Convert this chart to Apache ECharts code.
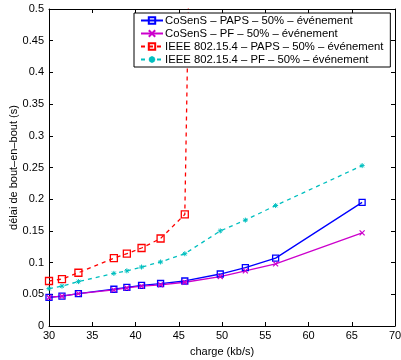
<!DOCTYPE html>
<html>
<head>
<meta charset="utf-8">
<script src="https://cdn.jsdelivr.net/npm/echarts@6/dist/echarts.min.js"></script>
<style>
  html, body { margin: 0; padding: 0; background: #fff; }
  #chart { width: 401px; height: 360px; }
</style>
</head>
<body>
<div id="chart"></div>
<script>
const loads = [30, 31.5, 33.4, 37.5, 39.0, 40.7, 42.9, 45.7, 49.8, 52.7, 56.2, 66.2];
const cosensPaps = [0.045, 0.047, 0.051, 0.058, 0.061, 0.064, 0.067, 0.071, 0.082, 0.092, 0.107, 0.195];
const cosensPf = [0.045, 0.047, 0.051, 0.057, 0.060, 0.063, 0.065, 0.069, 0.078, 0.087, 0.098, 0.147];
const ieeePapsLoads = [30, 31.5, 33.4, 37.5, 39.0, 40.7, 42.9, 45.7, 46.3];
const ieeePaps = [0.071, 0.074, 0.084, 0.107, 0.114, 0.123, 0.138, 0.176, 0.65];
const ieeePf = [0.059, 0.063, 0.070, 0.083, 0.087, 0.093, 0.101, 0.114, 0.150, 0.167, 0.190, 0.253];
const names = [
  "CoSenS – PAPS – 50% – événement",
  "CoSenS – PF – 50% – événement",
  "IEEE 802.15.4 – PAPS – 50% – événement",
  "IEEE 802.15.4 – PF – 50% – événement"
];

const font = "Liberation Sans";
const pairs = (xs, ys) => xs.map((x, i) => [x, ys[i]]);
const crossPath = "path://M0,0L10,10M10,0L0,10";
const starPath = "path://M0,0L10,10M10,0L0,10M5,-2L5,12M-2,5L12,5";

const chart = echarts.init(document.getElementById("chart"));

const axisCommon = {
  type: "value",
  axisLine: { show: true, onZero: false, lineStyle: { color: "#000", width: 1 } },
  axisTick: { show: true, inside: true, length: 4, lineStyle: { color: "#000" } },
  splitLine: { show: false }
};

const option = {
  animation: false,
  backgroundColor: "#fff",
  textStyle: { fontFamily: font },
  grid: { left: 49, right: 6, top: 9, bottom: 34, containLabel: false, outerBoundsMode: "none" },
  legend: {
    orient: "vertical",
    left: 134,
    top: 13,
    padding: [2, 7, 2, 6],
    itemGap: 2,
    itemWidth: 22,
    itemHeight: 8,
    borderColor: "#000",
    borderWidth: 1,
    backgroundColor: "#fff",
    textStyle: { fontFamily: font, fontSize: 11.3, color: "#000", padding: [0, 0, 0, -3] },
    data: names
  },
  xAxis: [
    Object.assign({}, axisCommon, {
      min: 30, max: 70, interval: 5,
      position: "bottom",
      name: "charge (kb/s)",
      nameLocation: "middle",
      nameGap: 20,
      nameMoveOverlap: false,
      nameTextStyle: { fontFamily: font, fontSize: 11, color: "#000" },
      axisLabel: { color: "#000", fontFamily: font, fontSize: 11, margin: 4 }
    }),
    Object.assign({}, axisCommon, {
      min: 30, max: 70, interval: 5,
      position: "top",
      axisLabel: { show: false }
    })
  ],
  yAxis: [
    Object.assign({}, axisCommon, {
      min: 0, max: 0.5, interval: 0.05,
      position: "left",
      name: "délai de bout–en–bout (s)",
      nameLocation: "middle",
      nameGap: 30,
      nameMoveOverlap: false,
      nameTextStyle: { fontFamily: font, fontSize: 11, color: "#000" },
      axisLabel: { color: "#000", fontFamily: font, fontSize: 11, margin: 5 }
    }),
    Object.assign({}, axisCommon, {
      min: 0, max: 0.5, interval: 0.05,
      position: "right",
      axisLabel: { show: false }
    })
  ],
  series: [
    {
      name: names[0],
      type: "line",
      data: pairs(loads, cosensPaps),
      symbol: "rect",
      symbolSize: 6,
      lineStyle: { color: "#0000ff", width: 1.3 },
      itemStyle: { color: "rgba(0,0,0,0)", borderColor: "#0000ff", borderWidth: 1.3 }
    },
    {
      name: names[1],
      type: "line",
      data: pairs(loads, cosensPf),
      symbol: crossPath,
      symbolSize: 5,
      lineStyle: { color: "#cc00cc", width: 1.3 },
      itemStyle: { color: "rgba(0,0,0,0)", borderColor: "#cc00cc", borderWidth: 1.2 }
    },
    {
      name: names[2],
      type: "line",
      data: pairs(ieeePapsLoads, ieeePaps),
      clip: true,
      symbol: "rect",
      symbolSize: 7,
      lineStyle: { color: "#ff0000", width: 1.3, type: [4, 4] },
      itemStyle: { color: "rgba(0,0,0,0)", borderColor: "#ff0000", borderWidth: 1.3 }
    },
    {
      name: names[3],
      type: "line",
      data: pairs(loads, ieeePf),
      symbol: starPath,
      symbolSize: 5,
      lineStyle: { color: "#00bfbf", width: 1.3, type: [4, 4] },
      itemStyle: { color: "rgba(0,0,0,0)", borderColor: "#00bfbf", borderWidth: 1 }
    }
  ]
};

chart.setOption(option);
window.addEventListener("resize", () => chart.resize());
</script>
</body>
</html>
